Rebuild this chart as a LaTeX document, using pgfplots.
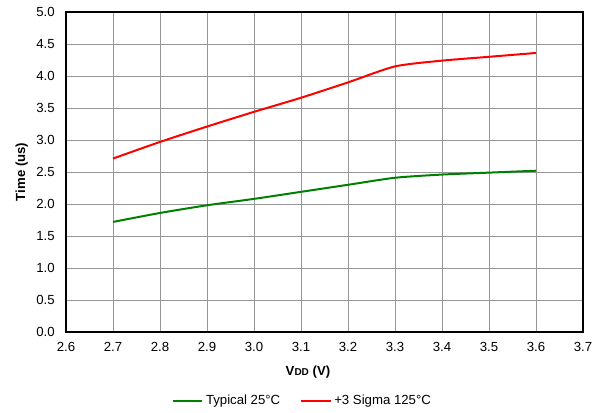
\documentclass[border=0pt]{standalone}
\usepackage{pgfplots}
\pgfplotsset{compat=1.18}
\usepackage{fontspec}
\setmainfont{Liberation Sans}
\definecolor{gridc}{RGB}{150,150,150}
\begin{document}
\begin{tikzpicture}
\useasboundingbox (-49.5pt,-60.75pt) rectangle (402pt,249pt);
\begin{axis}[
  scale only axis,
  width=387.75pt, height=240pt,
  xmin=2.6, xmax=3.7, ymin=0, ymax=5,
  xtick={2.6,2.7,...,3.75},
  ytick={0,0.5,...,5.01},
  grid=major,
  major grid style={gridc, line width=0.6pt},
  tick style={draw=none},
  axis line style={black, line width=0.9pt},
  /pgf/number format/assume math mode=true,
  /pgf/number format/.cd, fixed, fixed zerofill, precision=1,
  /pgfplots/.cd,
  ticklabel style={font=\fontsize{9.9}{11}\selectfont},
  xticklabel style={yshift=-4.5pt},
  yticklabel style={xshift=-5pt},
  xlabel={\bfseries V{\fontsize{7.5}{8}\selectfont DD} (V)},
  ylabel={\bfseries Time (us)},
  label style={font=\fontsize{9.9}{11}\selectfont},
  xlabel style={at={(axis description cs:0.468,-0.125)}, anchor=center},
  ylabel style={at={(axis description cs:-0.0857,0.5)}, anchor=center, rotate=0},
  legend style={at={(axis description cs:0.458,-0.216)}, anchor=center, draw=none,
    font=\fontsize{9.9}{11}\selectfont, legend columns=2,
    /tikz/every even column/.append style={column sep=13pt},
    /tikz/every odd column/.append style={column sep=0pt},
    inner sep=0pt},
  legend image code/.code={\draw[#1] (0,0) -- (22pt,0);},
]
\addplot[color={rgb,255:red,0;green,128;blue,0}, line width=1.5pt, smooth, tension=0.4] coordinates {
(2.7,1.72) (2.8,1.86) (2.9,1.98) (3.0,2.08) (3.1,2.19) (3.2,2.30) (3.3,2.41) (3.4,2.46) (3.5,2.49) (3.6,2.52)};
\addlegendentry{Typical 25°C}
\addplot[color={rgb,255:red,255;green,0;blue,0}, line width=1.5pt, smooth, tension=0.4] coordinates {
(2.7,2.71) (2.8,2.97) (2.9,3.21) (3.0,3.44) (3.1,3.66) (3.2,3.90) (3.3,4.15) (3.4,4.24) (3.5,4.30) (3.6,4.36)};
\addlegendentry{+3 Sigma 125°C}
\end{axis}
\end{tikzpicture}
\end{document}
